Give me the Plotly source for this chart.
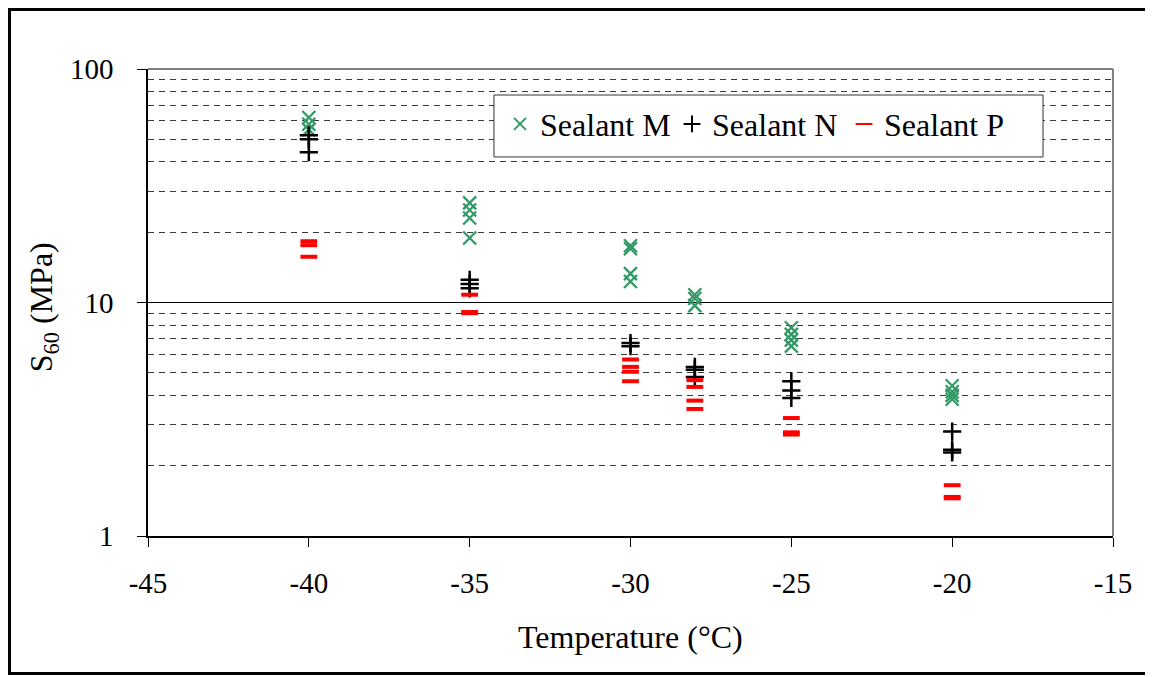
import plotly.graph_objects as go

# Data
temps_M = [-40, -40, -40, -35, -35, -35, -35, -30, -30, -30, -30, -28, -28, -28,
           -25, -25, -25, -25, -20, -20, -20, -20]
sealant_M = [62, 58, 55, 26.7, 24.9, 23, 18.9, 17.5, 17, 13.3, 12.3, 10.8, 10.4, 9.7,
             7.8, 7.3, 6.9, 6.5, 4.4, 4.15, 4.0, 3.85]

temps_N = [-40, -40, -40, -35, -35, -35, -30, -30, -28, -28, -28, -25, -25, -25,
           -20, -20, -20]
sealant_N = [52, 50, 44, 12.5, 12, 11.5, 6.7, 6.5, 5.3, 5.15, 4.8, 4.6, 4.2, 3.9,
             2.8, 2.34, 2.28]

temps_P = [-40, -40, -40, -35, -35, -35, -30, -30, -30, -30, -28, -28, -28, -28,
           -25, -25, -25, -20, -20, -20]
sealant_P = [18.3, 17.6, 15.7, 10.8, 9.1, 9.0, 5.7, 5.3, 5.05, 4.6, 4.65, 4.35, 3.8, 3.5,
             3.2, 2.78, 2.72, 1.65, 1.47, 1.45]

x_ticks = [-45, -40, -35, -30, -25, -20, -15]
y_ticks = [1, 10, 100]

FONT = "Liberation Serif"
GREEN = "#339966"

fig = go.Figure()
fig.add_trace(go.Scatter(x=temps_M, y=sealant_M, mode="markers", name="Sealant M",
                         marker=dict(symbol="x-thin-open", size=13, color=GREEN,
                                     line=dict(color=GREEN, width=2.3))))
fig.add_trace(go.Scatter(x=temps_N, y=sealant_N, mode="markers", name="Sealant N",
                         marker=dict(symbol="cross-thin-open", size=13, color="black",
                                     line=dict(color="black", width=2.5))))
fig.add_trace(go.Scatter(x=temps_P, y=sealant_P, mode="markers", name="Sealant P",
                         marker=dict(symbol="line-ew-open", size=12, color="#ff0000",
                                     line=dict(color="#ff0000", width=4))))

# page body has an 8px margin, so the figure is offset by 8px
fig.update_layout(
    width=1145, height=669, autosize=False,
    margin=dict(l=140, r=40, t=61, b=141, autoexpand=False),
    paper_bgcolor="white", plot_bgcolor="white",
    font=dict(family=FONT, size=28, color="black"),
    showlegend=True,
    legend=dict(orientation="h", x=0.3648, y=0.882, xanchor="left", yanchor="middle",
                bgcolor="rgba(0,0,0,0)", borderwidth=0,
                font=dict(family=FONT, size=32, color="black"),
                entrywidth=127, itemsizing="constant", itemwidth=30,
                tracegroupgap=0),
    xaxis=dict(range=[-45, -15], tickvals=x_ticks, ticktext=[str(v) for v in x_ticks],
               showgrid=False, zeroline=False, showline=True, linecolor="black",
               linewidth=1.5, ticks="outside", ticklen=9, tickwidth=1.2,
               tickcolor="black", ticklabelstandoff=11, automargin=False,
               tickfont=dict(family=FONT, size=29, color="black")),
    yaxis=dict(type="log", range=[0, 2], tickvals=y_ticks,
               ticktext=[str(v) for v in y_ticks],
               showgrid=True, gridcolor="black", gridwidth=1,
               zeroline=False, showline=True, linecolor="black", linewidth=1.5,
               ticks="outside", ticklen=9, tickwidth=1.2, tickcolor="black",
               ticklabelstandoff=18, automargin=False,
               tickfont=dict(family=FONT, size=29, color="black"),
               minor=dict(dtick="D1", showgrid=True, gridcolor="#3a3a3a",
                          griddash="6px,5px", gridwidth=1, ticks="")),
)

# Gray top/right plot border
fig.add_shape(type="line", xref="paper", yref="paper", x0=0, x1=1, y0=1, y1=1,
              line=dict(color="#808080", width=2), layer="above")
fig.add_shape(type="line", xref="paper", yref="paper", x0=1, x1=1, y0=0, y1=1,
              line=dict(color="#808080", width=2), layer="above")
# Legend box
fig.add_shape(type="rect", xref="paper", yref="paper",
              x0=0.3585, x1=0.9275, y0=0.8116, y1=0.9443,
              line=dict(color="#333333", width=1), fillcolor="white", layer="above")
# Outer chart frame
fig.add_shape(type="rect", xref="paper", yref="paper",
              x0=-0.1435, x1=1.0378, y0=-0.2944, y1=1.1274,
              line=dict(color="black", width=3), layer="above")

fig.add_annotation(text="Temperature (°C)", xref="paper", yref="paper",
                   x=0.4995, y=-0.2163, xanchor="center", yanchor="middle",
                   showarrow=False, font=dict(family=FONT, size=32, color="black"))
fig.add_annotation(text="S<sub>60</sub> (MPa)", xref="paper", yref="paper",
                   x=-0.1088, y=0.49, xanchor="center", yanchor="middle",
                   textangle=-90, showarrow=False,
                   font=dict(family=FONT, size=32, color="black"))

fig.write_html("out.html")
